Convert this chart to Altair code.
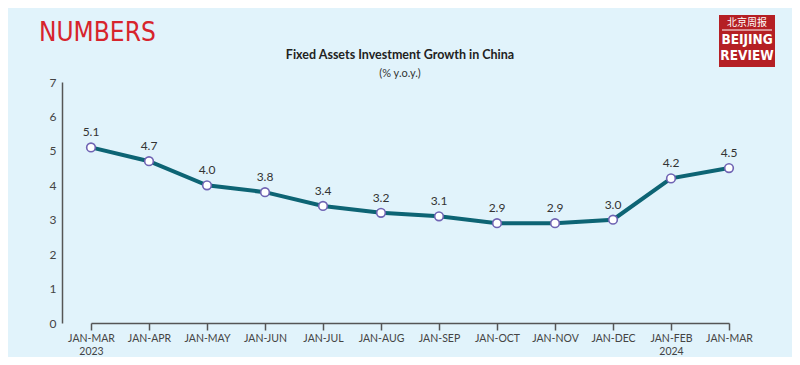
import altair as alt
import pandas as pd

periods = ["JAN-MAR\n2023", "JAN-APR", "JAN-MAY", "JAN-JUN", "JAN-JUL", "JAN-AUG",
           "JAN-SEP", "JAN-OCT", "JAN-NOV", "JAN-DEC", "JAN-FEB\n2024", "JAN-MAR"]
growth = [5.1, 4.7, 4.0, 3.8, 3.4, 3.2, 3.1, 2.9, 2.9, 3.0, 4.2, 4.5]
y_ticks = [0, 1, 2, 3, 4, 5, 6, 7]

df = pd.DataFrame({"period": periods, "growth": growth,
                   "label": [f"{v:.1f}" for v in growth]})

W, H = 689, 241
BG = "#e1f3fb"
FONT = "Lato"
COND = "DejaVu Sans Condensed"

x_enc = alt.X("period:N", sort=periods,
              scale=alt.Scale(type="point", range=[29, 667], padding=0),
              axis=alt.Axis(title=None, labelAngle=0, labelExpr="split(datum.label, '\\n')",
                            domainColor="#555555", domainWidth=1.5, tickColor="#555555",
                            tickWidth=1.5, tickSize=7, labelPadding=3, labelFontSize=10.5,
                            labelColor="#444444", labelFont=FONT, labelLineHeight=13))
y_enc = alt.Y("growth:Q", scale=alt.Scale(domain=[0, 7], nice=False),
              axis=alt.Axis(title=None, values=y_ticks, grid=False, ticks=False,
                            domainColor="#555555", domainWidth=1.5, labelPadding=6,
                            labelFontSize=12, labelColor="#444444", labelFont=FONT))

base = alt.Chart(df)
line = base.mark_line(color="#0d6474", strokeWidth=4).encode(x=x_enc, y=y_enc)
pts = base.mark_point(shape="circle", filled=True, fill="white", stroke="#6f63b3",
                      strokeWidth=1.6, size=75, opacity=1).encode(x=x_enc, y=y_enc)
lbl = base.mark_text(dy=-15, fontSize=12, color="#333333", font=FONT).encode(
    x=x_enc, y=y_enc, text="label:N")

deco = pd.DataFrame({"k": [0]})
dbase = alt.Chart(deco)
numbers = dbase.mark_text(text="NUMBERS", font=COND, fontSize=26,
                          color="#d7242c", align="left", baseline="alphabetic").encode(
    x=alt.value(-23), y=alt.value(-41))
title = dbase.mark_text(text="Fixed Assets Investment Growth in China", font=FONT,
                        fontSize=12.5, fontWeight="bold", color="#222222",
                        align="center", baseline="alphabetic").encode(
    x=alt.value(338), y=alt.value(-23))
sub = dbase.mark_text(text="(% y.o.y.)", font=FONT, fontSize=11, color="#333333",
                      align="center", baseline="alphabetic").encode(
    x=alt.value(338), y=alt.value(-5))
logo_box = dbase.mark_rect(color="#b51f24").encode(
    x=alt.value(657), x2=alt.value(713), y=alt.value(-67), y2=alt.value(-15))
logo_cn = dbase.mark_text(text="北京周报", font="Noto Sans CJK SC", fontSize=10,
                          color="white", align="center").encode(
    x=alt.value(685), y=alt.value(-59))
logo_rule = dbase.mark_rule(color="white", strokeWidth=1).encode(
    x=alt.value(660), x2=alt.value(710), y=alt.value(-52))
logo_b = dbase.mark_text(text="BEIJING", font=COND, fontSize=13.5,
                         fontWeight="bold", color="white", align="center").encode(
    x=alt.value(685), y=alt.value(-42))
logo_r = dbase.mark_text(text="REVIEW", font=COND, fontSize=13.5,
                         fontWeight="bold", color="white", align="center").encode(
    x=alt.value(685), y=alt.value(-26))

chart = alt.layer(line, pts, lbl, numbers, title, sub, logo_box, logo_cn, logo_rule,
                  logo_b, logo_r).properties(
    width=W, height=H,
    autosize=alt.AutoSizeParams(type="none"),
    padding={"left": 54, "top": 74, "right": 41, "bottom": 34},
    background=BG,
).configure_view(stroke=None)

chart.save("out.html", embed_options={"renderer": "svg", "actions": False})
